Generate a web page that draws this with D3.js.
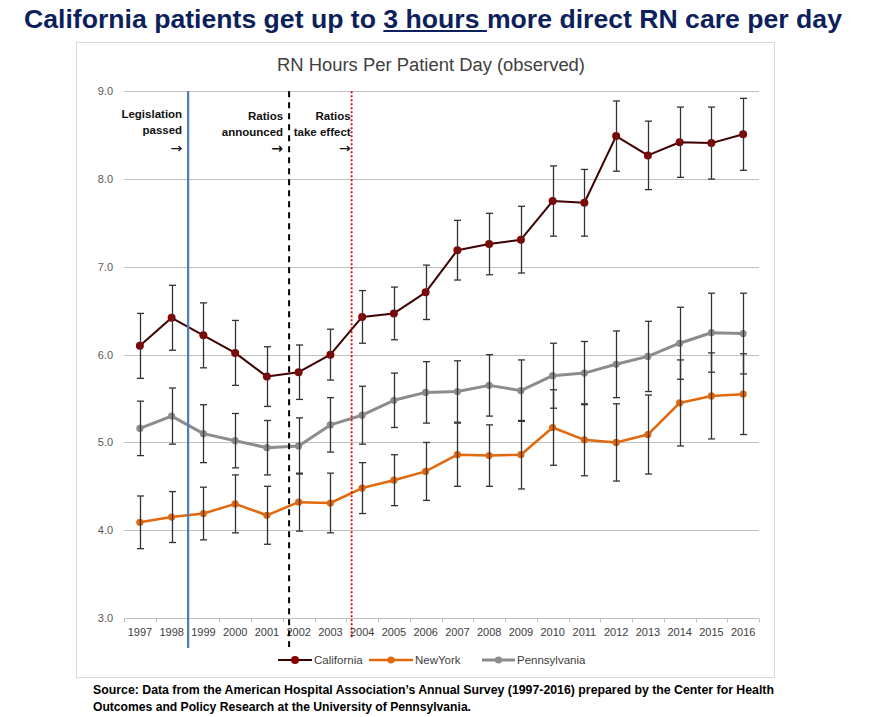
<!DOCTYPE html>
<html><head><meta charset="utf-8">
<script src="https://cdn.jsdelivr.net/npm/d3@7"></script>
<style>body{margin:0;background:#fff}svg{display:block}</style>
</head><body>
<svg id="c" width="875" height="717"></svg>
<script>
const years = ["1997","1998","1999","2000","2001","2002","2003","2004","2005","2006","2007","2008","2009","2010","2011","2012","2013","2014","2015","2016"];
const california = [6.10,6.42,6.22,6.02,5.75,5.80,6.00,6.43,6.47,6.71,7.19,7.26,7.31,7.75,7.73,8.49,8.27,8.42,8.41,8.51];
const californiaErr = [0.37,0.37,0.37,0.37,0.34,0.31,0.29,0.30,0.30,0.31,0.34,0.35,0.38,0.40,0.38,0.40,0.39,0.40,0.41,0.41];
const newYork = [4.09,4.15,4.19,4.30,4.17,4.32,4.31,4.48,4.57,4.67,4.86,4.85,4.86,5.17,5.03,5.00,5.09,5.45,5.53,5.55];
const newYorkErr = [0.30,0.29,0.30,0.33,0.33,0.33,0.34,0.29,0.29,0.33,0.36,0.35,0.39,0.43,0.41,0.44,0.45,0.49,0.49,0.46];
const pennsylvania = [5.16,5.30,5.10,5.02,4.94,4.96,5.20,5.31,5.48,5.57,5.58,5.65,5.59,5.76,5.79,5.89,5.98,6.13,6.25,6.24];
const pennsylvaniaErr = [0.31,0.32,0.33,0.31,0.31,0.32,0.31,0.33,0.31,0.35,0.35,0.35,0.35,0.37,0.36,0.38,0.40,0.41,0.45,0.46];
const yTicks = [3,4,5,6,7,8,9];
const seriesNames = ["California","NewYork","Pennsylvania"];
const eventYears = [1998.52, 2001.7, 2003.67];
const eventLabels = [["Legislation","passed"],["Ratios","announced"],["Ratios","take effect"]];
const titleText = ["California patients get up to ","3 hours ","more direct RN care per day"];
const chartTitle = "RN Hours Per Patient Day (observed)";
const sourceLines = ["Source: Data from the American Hospital Association\u2019s Annual Survey (1997-2016) prepared by the Center for Health","Outcomes and Policy Research at the University of Pennsylvania."];

const svg = d3.select("#c");
const series = [
  {name: seriesNames[0], values: california, err: californiaErr, line: "#3f0000", lw: 2, marker: "#8b0000", r: 4},
  {name: seriesNames[1], values: newYork, err: newYorkErr, line: "#e2680c", lw: 2.5, marker: "#e2680c", r: 3.6},
  {name: seriesNames[2], values: pennsylvania, err: pennsylvaniaErr, line: "#8c8c8c", lw: 3, marker: "#8c8c8c", r: 3.6}
];

const tt = svg.append("text").attr("x", 24).attr("y", 28)
  .attr("font-family", "Liberation Sans, Arial, sans-serif").attr("font-weight", "bold")
  .attr("font-size", 25).attr("fill", "#0d1f5c")
  .attr("textLength", 818).attr("lengthAdjust", "spacingAndGlyphs");
titleText.forEach(t => tt.append("tspan").text(t));
{
  const n0 = titleText[0].length, n1 = titleText[1].length;
  const node = tt.node();
  const a = node.getStartPositionOfChar(n0).x;
  const b = node.getEndPositionOfChar(n0 + n1 - 1).x;
  svg.append("line").attr("x1", a).attr("x2", b).attr("y1", 31).attr("y2", 31)
    .attr("stroke", "#0d1f5c").attr("stroke-width", 2.2);
}

svg.append("rect").attr("x", 76.5).attr("y", 42.5).attr("width", 698).attr("height", 635)
  .attr("fill", "none").attr("stroke", "#d9d9d9").attr("stroke-width", 1);

svg.append("text").attr("x", 277).attr("y", 71).text(chartTitle)
  .attr("font-family", "Liberation Sans Narrow, Liberation Sans, Arial, sans-serif")
  .attr("font-size", 18).attr("fill", "#404040")
  .attr("textLength", 308).attr("lengthAdjust", "spacingAndGlyphs");

const x = d3.scaleBand().domain(years).range([124, 759]);
const bw = x.bandwidth();
const cx = d => x(d) + bw / 2;
const xLin = d3.scaleLinear().domain([+years[0], +years[years.length-1]]).range([cx(years[0]), cx(years[years.length-1])]);
const y = d3.scaleLinear().domain([3, 9]).range([618, 91.3]);

svg.append("g").selectAll("line").data(yTicks.filter(t => t > 3)).join("line")
  .attr("x1", 124).attr("x2", 759).attr("y1", d => Math.round(y(d)) + 0.5).attr("y2", d => Math.round(y(d)) + 0.5)
  .attr("stroke", "#c0c0c0").attr("stroke-width", 1);

const yAxis = d3.axisLeft(y).tickValues(yTicks).tickFormat(d3.format(".1f")).tickSize(0).tickPadding(11);
const gy = svg.append("g").attr("transform", "translate(124,0)").call(yAxis);
gy.select(".domain").remove();
gy.selectAll("text").attr("font-family", "Liberation Sans, Arial, sans-serif").attr("font-size", 11).attr("fill", "#595959");

const xAxis = d3.axisBottom(x).tickSize(0).tickPadding(10);
const gx = svg.append("g").attr("transform", `translate(0,${Math.round(y(3)) + 0.5})`).call(xAxis);
gx.select(".domain").attr("stroke", "#bfbfbf").attr("d", "M124,0H759");
gx.selectAll("text").attr("font-family", "Liberation Sans, Arial, sans-serif").attr("font-size", 11).attr("fill", "#404040");
const bounds = years.map(d => x(d)).concat([759]);
gx.append("g").selectAll("line").data(bounds).join("line")
  .attr("x1", d => Math.round(d) + 0.5).attr("x2", d => Math.round(d) + 0.5).attr("y1", 0).attr("y2", 4)
  .attr("stroke", "#bfbfbf");

const lineGen = (vals) => d3.line().x((v, i) => cx(years[i])).y(v => y(v))(vals);
series.forEach(s => {
  svg.append("path").attr("d", lineGen(s.values)).attr("fill", "none")
    .attr("stroke", s.line).attr("stroke-width", s.lw).attr("stroke-linejoin", "round");
  svg.append("g").selectAll("circle").data(s.values).join("circle")
    .attr("cx", (v, i) => cx(years[i])).attr("cy", v => y(v)).attr("r", s.r).attr("fill", s.marker);
});

series.forEach(s => {
  const g = svg.append("g").attr("stroke", "#333").attr("stroke-width", 1.3);
  s.values.forEach((v, i) => {
    const px = Math.round(cx(years[i])) + 0.5;
    const t = y(v + s.err[i]), b = y(v - s.err[i]);
    g.append("line").attr("x1", px).attr("x2", px).attr("y1", t).attr("y2", b);
    g.append("line").attr("x1", px - 3.5).attr("x2", px + 3.5).attr("y1", t).attr("y2", t);
    g.append("line").attr("x1", px - 3.5).attr("x2", px + 3.5).attr("y1", b).attr("y2", b);
  });
});

const evStyles = [
  {stroke: "#4a7ebb", w: 2.2, dash: null, bottom: 648},
  {stroke: "#000", w: 2, dash: "6,5", bottom: 647},
  {stroke: "#e00000", w: 1.8, dash: "2,2", bottom: 639}
];
eventYears.forEach((ev, i) => {
  const st = evStyles[i];
  svg.append("line").attr("x1", xLin(ev)).attr("x2", xLin(ev)).attr("y1", y(9)).attr("y2", st.bottom)
    .attr("stroke", st.stroke).attr("stroke-width", st.w).attr("stroke-dasharray", st.dash);
  const tx = xLin(ev) - (i === 2 ? 1 : 6);
  const g = svg.append("g").attr("font-family", "Liberation Sans, Arial, sans-serif").attr("font-weight", "bold")
    .attr("font-size", 11.5).attr("fill", "#111").attr("text-anchor", "end");
  const dy = i === 0 ? 0 : 2;
  g.append("text").attr("x", tx).attr("y", 118 + dy).text(eventLabels[i][0]);
  g.append("text").attr("x", tx).attr("y", 134 + dy).text(eventLabels[i][1]);
  g.append("text").attr("x", tx).attr("y", 153).text("\u2192")
    .attr("font-family", "DejaVu Sans, sans-serif").attr("font-weight", i === 1 ? "bold" : "normal")
    .attr("font-size", 14);
});

const legX = [278, 369, 482];
const legLen = [34, 44, 33];
series.forEach((s, i) => {
  const g = svg.append("g").attr("transform", `translate(${legX[i]},660)`);
  g.append("line").attr("x1", 0).attr("x2", legLen[i]).attr("stroke", s.line).attr("stroke-width", s.lw);
  g.append("circle").attr("cx", legLen[i] / 2).attr("r", s.r).attr("fill", s.marker);
  g.append("text").attr("x", legLen[i] + 2).attr("y", 4).text(s.name)
    .attr("font-family", "Liberation Sans, Arial, sans-serif").attr("font-size", 11.5).attr("fill", "#404040");
});

const srcW = [681, 378];
sourceLines.forEach((l, i) => {
  svg.append("text").attr("x", 93).attr("y", 694 + i * 17).text(l)
    .attr("font-family", "Liberation Sans, Arial, sans-serif").attr("font-weight", "bold")
    .attr("font-size", 12).attr("fill", "#000")
    .attr("textLength", srcW[i]).attr("lengthAdjust", "spacingAndGlyphs");
});
</script>
</body></html>
